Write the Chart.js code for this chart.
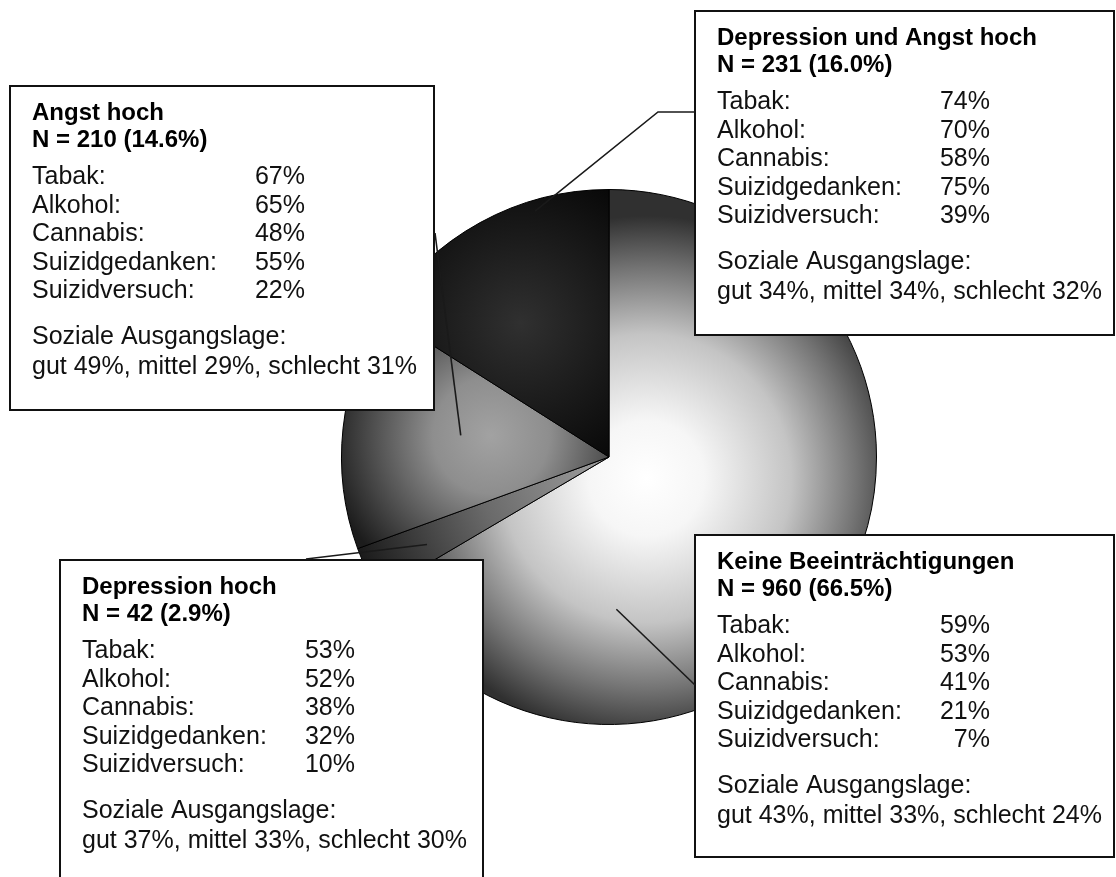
<!DOCTYPE html>
<html lang="de">
<head>
<meta charset="UTF-8">
<title>Gruppen nach Depression und Angst</title>
<script src="https://cdn.jsdelivr.net/npm/chart.js"></script>
<style>
  html, body { margin: 0; padding: 0; background: #fff; }
  .wrap { position: relative; width: 1116px; height: 877px; overflow: hidden; }
</style>
</head>
<body>
<div class="wrap"><canvas id="pie"></canvas></div>
<script>
// slices, clockwise from 12 o'clock
const categories = ['Keine Beeinträchtigungen', 'Depression hoch', 'Angst hoch', 'Depression und Angst hoch'];
const counts = [960, 42, 210, 231];

const itemLabels = ['Tabak:', 'Alkohol:', 'Cannabis:', 'Suizidgedanken:', 'Suizidversuch:'];
const tabak = [59, 53, 67, 74];
const alkohol = [53, 52, 65, 70];
const cannabis = [41, 38, 48, 58];
const suizidgedanken = [21, 32, 55, 75];
const suizidversuch = [7, 10, 22, 39];

const sozialTitle = 'Soziale Ausgangslage:';
const sozialGut = [43, 37, 49, 34];
const sozialMittel = [33, 33, 29, 34];
const sozialSchlecht = [24, 30, 31, 32];

// layout of the callout boxes (page pixels) and where the leader hits the slice
// anchor = [fraction of the slice angle, fraction of the radius]
const callouts = [
  { x: 695, y: 535, w: 419, h: 322, leader: [[695, 685]], anchor: [0.74, 0.57] },
  { x: 60, y: 560, w: 423, h: 340, leader: [[306, 559]], anchor: [0.46, 0.755] },
  { x: 10, y: 86, w: 424, h: 324, leader: [[435, 233]], anchor: [0.54, 0.56] },
  { x: 695, y: 11, w: 419, h: 324, leader: [[695, 112], [658, 112]], anchor: [0.71, 0.96] }
];

// radial shading per slice, relative to pie centre / radius
const shading = [
  { dx: 0.14, dy: 0.08, size: 0.98, stops: [[0, '#ffffff'], [0.22, '#f6f6f6'], [0.55, '#c4c4c4'], [0.8, '#747474'], [1, '#303030']] },
  { dx: 0, dy: 0, size: 1, stops: [[0, '#a0a0a0'], [0.5, '#6a6a6a'], [1, '#1a1a1a']] },
  { dx: -0.44, dy: -0.08, size: 0.62, stops: [[0, '#a2a2a2'], [0.35, '#8e8e8e'], [1, '#1c1c1c']] },
  { dx: -0.33, dy: -0.5, size: 0.6, stops: [[0, '#303030'], [1, '#080808']] }
];

function sliceFill(context) {
  const area = context.chart.chartArea;
  const g = shading[context.dataIndex];
  if (!area || !g) return '#888';
  const cx = (area.left + area.right) / 2;
  const cy = (area.top + area.bottom) / 2;
  const r = Math.min(area.right - area.left, area.bottom - area.top) / 2;
  const gx = cx + g.dx * r, gy = cy + g.dy * r;
  const grad = context.chart.ctx.createRadialGradient(gx, gy, 0, gx, gy, g.size * r);
  g.stops.forEach(s => grad.addColorStop(s[0], s[1]));
  return grad;
}

const total = counts.reduce((a, b) => a + b, 0);
const FONT = '"Liberation Sans", Arial, sans-serif';

const calloutPlugin = {
  id: 'callouts',
  afterDatasetsDraw(chart) {
    const ctx = chart.ctx;
    const arcs = chart.getDatasetMeta(0).data;
    ctx.save();

    // boxes
    callouts.forEach(b => {
      ctx.fillStyle = '#fff';
      ctx.fillRect(b.x, b.y, b.w, b.h);
      ctx.strokeStyle = '#111';
      ctx.lineWidth = 2;
      ctx.strokeRect(b.x, b.y, b.w, b.h);
    });

    // leader lines into the slices
    arcs.forEach((arc, i) => {
      const b = callouts[i];
      const p = arc.getProps(['x', 'y', 'startAngle', 'endAngle', 'outerRadius'], true);
      const a = p.startAngle + (p.endAngle - p.startAngle) * b.anchor[0];
      const ax = p.x + Math.cos(a) * p.outerRadius * b.anchor[1];
      const ay = p.y + Math.sin(a) * p.outerRadius * b.anchor[1];
      ctx.beginPath();
      ctx.moveTo(b.leader[0][0], b.leader[0][1]);
      b.leader.slice(1).forEach(pt => ctx.lineTo(pt[0], pt[1]));
      ctx.lineTo(ax, ay);
      ctx.strokeStyle = '#1a1a1a';
      ctx.lineWidth = 1.6;
      ctx.stroke();
    });

    // texts
    ctx.textBaseline = 'alphabetic';
    callouts.forEach((b, i) => {
      const left = b.x + 22;
      const right = b.x + 295;
      const share = (counts[i] / total * 100).toFixed(1);
      ctx.fillStyle = '#000';
      ctx.textAlign = 'left';
      ctx.font = 'bold 24px ' + FONT;
      ctx.fillText(categories[i], left, b.y + 34);
      ctx.fillText('N = ' + counts[i] + ' (' + share + '%)', left, b.y + 61);

      ctx.font = '25px ' + FONT;
      ctx.fillStyle = '#111';
      const vals = [tabak[i], alkohol[i], cannabis[i], suizidgedanken[i], suizidversuch[i]];
      itemLabels.forEach((lab, k) => {
        const y = b.y + 98 + k * 28.5;
        ctx.textAlign = 'left';
        ctx.fillText(lab, left, y);
        ctx.textAlign = 'right';
        ctx.fillText(vals[k] + '%', right, y);
      });
      ctx.textAlign = 'left';
      ctx.fillText(sozialTitle, left, b.y + 258);
      ctx.fillText('gut ' + sozialGut[i] + '%, mittel ' + sozialMittel[i] + '%, schlecht ' + sozialSchlecht[i] + '%', left, b.y + 288);
    });

    ctx.restore();
  }
};

new Chart(document.getElementById('pie'), {
  type: 'pie',
  data: {
    labels: categories,
    datasets: [{
      data: counts,
      backgroundColor: sliceFill,
      borderColor: '#000',
      borderWidth: 1,
      hoverOffset: 0
    }]
  },
  options: {
    responsive: true,
    maintainAspectRatio: false,
    animation: false,
    layout: { padding: { left: 341, right: 239, top: 189, bottom: 152 } },
    plugins: {
      legend: { display: false },
      tooltip: { enabled: false }
    }
  },
  plugins: [calloutPlugin]
});
</script>
</body>
</html>
